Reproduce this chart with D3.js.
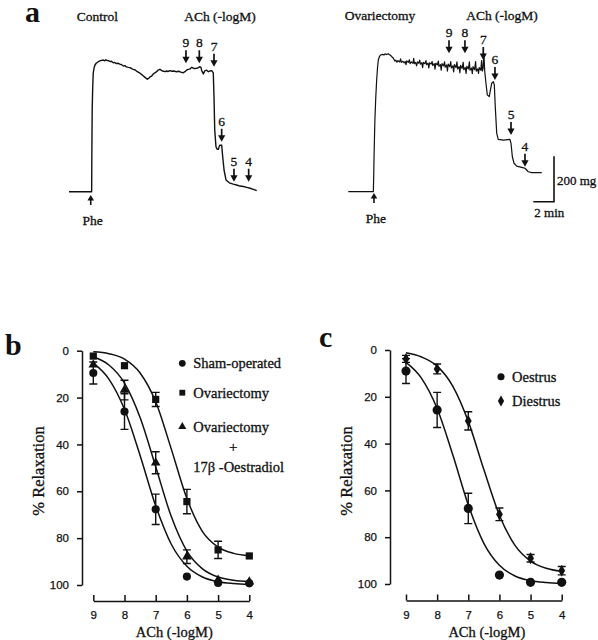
<!DOCTYPE html>
<html><head><meta charset="utf-8">
<script src="https://cdn.jsdelivr.net/npm/d3@7"></script>
<style>body{margin:0;background:#fff}</style>
</head><body><svg id="fig" width="598" height="640"></svg>
<script>
// ---------- DATA ----------
// Panel a: isometric tension recordings [time (min), tension (mg)]
const controlTrace = [[0,0],[2.19,0],[2.21,190],[2.24,376],[2.29,480],[2.34,546],[2.42,570],[2.51,584],[2.65,593],[2.83,599],[3.05,604],[3.31,607],[3.45,603],[3.55,608],[3.7,604],[3.8,604],[3.95,600],[4.1,601],[4.28,594],[4.4,596],[4.55,591],[4.76,592],[4.9,588],[5.05,586],[5.25,579],[5.4,581],[5.55,575],[5.73,573],[5.9,572],[6.05,567],[6.21,564],[6.4,561],[6.6,553],[6.86,546],[7.1,537],[7.35,527],[7.57,518],[7.7,523],[7.85,530],[7.99,533],[8.15,543],[8.3,548],[8.47,553],[8.6,560],[8.79,564],[8.9,560],[9.05,556],[9.28,553],[9.4,556],[9.55,554],[9.76,558],[9.95,555],[10.1,556],[10.41,553],[10.6,555],[10.8,551],[11.04,548],[11.2,553],[11.35,560],[11.53,564],[11.7,566],[11.85,573],[12.0,570],[12.1,567],[12.34,569],[12.5,572],[12.66,576],[12.75,573],[12.82,558],[12.9,551],[12.98,542],[13.05,550],[13.14,558],[13.3,560],[13.46,553],[13.6,556],[13.79,558],[13.94,548],[14.01,438],[14.08,284],[14.2,207],[14.33,195],[14.43,195],[14.52,210],[14.59,215],[14.68,213],[14.75,215],[14.85,161],[14.98,100],[15.17,54],[15.49,41],[15.87,35],[16.2,31],[16.52,26],[16.85,24],[17.17,20],[17.5,16],[17.81,11],[18.14,5]];
const ovxTrace = [[0,0],[2.42,0],[2.46,80],[2.48,146],[2.53,250],[2.57,330],[2.65,430],[2.74,515],[2.82,570],[2.9,607],[3.0,622],[3.13,630],[3.3,633],[3.45,630],[3.55,635],[3.7,632],[3.85,636],[4.03,630],[4.15,625],[4.35,615],[4.5,602],[4.6,606],[4.7,597],[4.8,604],[4.95,598],[5.05,612],[5.12,596],[5.25,601],[5.4,594],[5.5,600],[5.58,585],[5.65,603],[5.8,596],[5.9,608],[5.97,590],[6.1,598],[6.25,592],[6.32,614],[6.38,590],[6.5,596],[6.6,580],[6.68,598],[6.8,592],[6.9,606],[6.97,588],[7.1,594],[7.18,572],[7.25,596],[7.4,590],[7.5,604],[7.56,586],[7.7,592],[7.78,570],[7.85,594],[8.0,588],[8.1,600],[8.16,582],[8.3,590],[8.38,565],[8.45,592],[8.6,584],[8.7,602],[8.76,578],[8.9,586],[8.98,560],[9.05,590],[9.2,580],[9.3,598],[9.36,574],[9.5,584],[9.58,556],[9.65,588],[9.8,576],[9.9,600],[9.96,570],[10.1,580],[10.18,552],[10.25,586],[10.4,572],[10.5,598],[10.56,566],[10.7,576],[10.78,548],[10.85,582],[11.0,568],[11.1,596],[11.16,562],[11.3,572],[11.38,545],[11.45,578],[11.6,566],[11.7,598],[11.76,560],[11.9,570],[11.98,544],[12.05,576],[12.2,562],[12.3,600],[12.36,556],[12.5,566],[12.58,545],[12.65,572],[12.8,560],[12.88,604],[12.94,556],[13.02,566],[13.1,638],[13.18,556],[13.3,500],[13.43,446],[13.62,438],[13.76,476],[13.86,500],[14.01,507],[14.11,492],[14.2,392],[14.34,269],[14.49,241],[14.98,238],[15.62,241],[15.72,223],[15.85,161],[16.01,131],[16.27,118],[16.75,112],[17.07,108],[17.39,92],[17.72,88],[18.69,88]];
const doseLabels = ['9','8','7','6','5','4'];
const controlArrowTimes = [11.3,12.59,14.01,14.75,15.94,17.36];
const controlArrowTension = [592,592,576,230,46,46];
const ovxArrowTimes = [9.73,11.27,13.04,14.17,15.72,17.07];
const ovxArrowTension = [638,638,607,515,261,115];
const pheTimes = [2.1,2.48];           // control, ovariectomy
const pheTension = [-15,-6];
const scaleBarTime = 2;                // min
const scaleBarTension = 200;           // mg

// Panels b, c: concentration-response
const pLevels = [9,8,7,6,5,4];
const yTicks = [0,20,40,60,80,100];
const shamMean = [9.5,26,67.7,96.4,99.1,99.3];
const shamSem  = [4.7,7.6,6.5,0,0,0];
const ovxMean  = [2.3,6.4,20.8,64.4,85,87.6];
const ovxSem   = [0,0,3,5.2,3.7,0];
const ovxE2Mean = [6,16.8,47.8,87.9,97.9,98.6];
const ovxE2Sem  = [0,4.2,4.7,2.9,0,0];
const oestrusMean = [9,25.6,67.7,96.2,99.3,99.3];
const oestrusSem  = [5.3,7.5,6.5,0,0,0];
const diestrusMean = [3.8,8.1,30.3,70.2,89,94.3];
const diestrusSem  = [1.5,2.1,3.9,2.7,1.6,1.8];
// fitted curves, read at half-log steps
const curveP = [9,8.5,8,7.5,7,6.5,6,5.5,5,4.5,4];
const shamCurve = [5.3,12.1,25,44.7,66.2,82.6,92,96.6,98.6,99.4,99.8];
const ovxCurve = [0.5,1.3,3.6,9.5,21.8,42,63.1,77.2,83.8,86.5,87.5];
const ovxE2Curve = [2.6,6.1,13.8,28.5,49.5,70.8,85.5,93.1,96.6,98,98.6];
const oestrusCurve = [5.3,12.1,25,44.7,66.2,82.6,92,96.6,98.6,99.4,99.8];
const diestrusCurve = [1.2,3,6.9,15.4,30.5,51.1,70.6,83.5,90.2,93.3,94.6];

// ---------- DRAWING ----------
const svg = d3.select('#fig');
svg.append('rect').attr('width',598).attr('height',640).attr('fill','#fff');
const ink = '#111';
const serif = '"Liberation Serif","Times New Roman",serif';
const sans = '"Liberation Sans",Arial,sans-serif';

function txt(x,y,s,opt={}){
  return svg.append('text').attr('x',x).attr('y',y).attr('dy',opt.dy===undefined?'0.35em':opt.dy)
    .attr('text-anchor',opt.anchor||'middle')
    .attr('font-family',opt.family||serif).attr('font-size',opt.size||13.5)
    .attr('font-weight',opt.weight||'normal').attr('fill',ink)
    .attr('stroke',ink).attr('stroke-width',opt.sw===undefined?0.3:opt.sw).text(s);
}

// ---- Panel a ----
const traceY = d3.scaleLinear().domain([0,1000]).range([191.7,-25.3]);
const ctrlX = d3.scaleLinear().domain([0,20]).range([69,276]);
const ovxX = d3.scaleLinear().domain([0,20]).range([348.3,555.3]);
const traceLine = xs => d3.line().x(d=>xs(d[0])).y(d=>traceY(d[1]));

svg.append('path').attr('d',traceLine(ctrlX)(controlTrace)).attr('fill','none')
  .attr('stroke',ink).attr('stroke-width',1.4).attr('stroke-linejoin','round');
svg.append('path').attr('d',traceLine(ovxX)(ovxTrace)).attr('fill','none')
  .attr('stroke',ink).attr('stroke-width',1.2).attr('stroke-linejoin','round');

function downArrow(x,yTip,label){
  svg.append('line').attr('x1',x).attr('x2',x).attr('y1',yTip-13).attr('y2',yTip-5)
    .attr('stroke',ink).attr('stroke-width',1.7);
  svg.append('path').attr('d',`M${x-3.6},${yTip-6.5}L${x+3.6},${yTip-6.5}L${x},${yTip}Z`).attr('fill',ink);
  txt(x,yTip-20.5,label,{size:13.5});
}
function upArrow(x,yTip,label){
  svg.append('line').attr('x1',x).attr('x2',x).attr('y1',yTip+4).attr('y2',yTip+10)
    .attr('stroke',ink).attr('stroke-width',1.6);
  svg.append('path').attr('d',`M${x-3.3},${yTip+5.5}L${x+3.3},${yTip+5.5}L${x},${yTip}Z`).attr('fill',ink);
  txt(x+2,yTip+25,label,{size:13.5});
}
doseLabels.forEach((l,i)=>downArrow(ctrlX(controlArrowTimes[i]),traceY(controlArrowTension[i]),l));
doseLabels.forEach((l,i)=>downArrow(ovxX(ovxArrowTimes[i]),traceY(ovxArrowTension[i]),l));
upArrow(ctrlX(pheTimes[0]),traceY(pheTension[0]),'Phe');
upArrow(ovxX(pheTimes[1]),traceY(pheTension[1]),'Phe');

// scale bar
const sbX1 = 554, sbY0 = 201.7;
const sbW = ovxX(scaleBarTime)-ovxX(0), sbH = traceY(0)-traceY(scaleBarTension);
svg.append('path').attr('d',`M${sbX1-sbW},${sbY0}H${sbX1}V${sbY0-sbH-2}`)
  .attr('fill','none').attr('stroke',ink).attr('stroke-width',1.6);
txt(sbX1+3,180,scaleBarTension+' mg',{anchor:'start',size:13});
txt(sbX1-sbW+1,212,scaleBarTime+' min',{anchor:'start',size:13});

txt(25,22,'a',{anchor:'start',size:30,weight:'bold',dy:0,sw:0});
txt(97.5,16.7,'Control',{size:13.5});
txt(220,16.7,'ACh (-logM)',{size:13.5});
txt(380,15,'Ovariectomy',{size:13.5});
txt(502,15,'ACh (-logM)',{size:13.5});

// ---- Panels b & c ----
function panel(cfg){
  const x = d3.scaleLinear().domain([9,4]).range(cfg.xr);
  const y = d3.scaleLinear().domain([0,100]).range(cfg.yr);
  const g = svg.append('g');
  const ya = g.append('g').attr('transform',`translate(${cfg.axX},0)`)
    .call(d3.axisLeft(y).tickValues(yTicks).tickSize(5).tickSizeOuter(0).tickPadding(8));
  const xa = g.append('g').attr('transform',`translate(0,${cfg.axY})`)
    .call(d3.axisBottom(x).tickValues(pLevels).tickSize(-6).tickSizeOuter(0).tickPadding(10).tickFormat(d3.format('d')));
  [ya,xa].forEach(a=>{
    a.selectAll('path,line').attr('stroke',ink).attr('stroke-width',1.5);
    a.selectAll('text').attr('font-family',sans).attr('font-size',11.5).attr('fill',ink)
      .attr('stroke',ink).attr('stroke-width',0.25);
  });
  txt((cfg.xr[0]+cfg.xr[1])/2+3,631.5,'ACh (-logM)',{size:14.5});
  svg.append('text').attr('transform',`translate(${cfg.axX-44},471) rotate(-90)`)
    .attr('text-anchor','middle').attr('dy','0.35em').attr('font-family',serif)
    .attr('font-size',16.5).attr('fill',ink).attr('stroke',ink).attr('stroke-width',0.3).text('% Relaxation');
  const line = d3.line().x((d,i)=>x(curveP[i])).y(d=>y(d)).curve(d3.curveMonotoneX);
  cfg.curves.forEach(c=>g.append('path').attr('d',line(c)).attr('fill','none')
    .attr('stroke',ink).attr('stroke-width',1.5));
  cfg.series.forEach(s=>{
    s.mean.forEach((m,i)=>{
      if(s.sem[i]>0){
        const px=x(pLevels[i]), y1=y(m-s.sem[i]), y2=y(m+s.sem[i]);
        g.append('path').attr('d',`M${px},${y1}V${y2}M${px-4},${y1}H${px+4}M${px-4},${y2}H${px+4}`)
          .attr('stroke',ink).attr('stroke-width',1.4).attr('fill','none');
      }
    });
    s.mean.forEach((m,i)=>{
      g.append('path').attr('d',d3.symbol(s.type,s.size)())
        .attr('transform',`translate(${x(pLevels[i])},${y(m)})`).attr('fill',ink);
    });
  });
  cfg.legend.forEach(l=>{
    svg.append('path').attr('d',d3.symbol(l.type,l.size)())
      .attr('transform',`translate(${l.x},${l.y})`).attr('fill',ink);
    txt(l.x+11,l.y,l.label,{anchor:'start',size:14.5});
  });
}

panel({xr:[93.3,249.3], yr:[350.7,585], axX:82, axY:601,
  curves:[shamCurve,ovxCurve,ovxE2Curve],
  series:[
    {mean:ovxE2Mean,sem:ovxE2Sem,type:d3.symbolTriangle,size:40},
    {mean:ovxMean,sem:ovxSem,type:d3.symbolSquare,size:52},
    {mean:shamMean,sem:shamSem,type:d3.symbolCircle,size:52}],
  legend:[
    {x:182.3,y:363.3,type:d3.symbolCircle,size:36,label:'Sham-operated'},
    {x:182.3,y:392.7,type:d3.symbolSquare,size:34,label:'Ovariectomy'},
    {x:182.3,y:426.7,type:d3.symbolTriangle,size:28,label:'Ovariectomy'}]
});
txt(233.3,446.7,'+',{size:15});
txt(193.3,467.3,'17β -Oestradiol',{anchor:'start',size:14.5});
txt(5,355,'b',{anchor:'start',size:30,weight:'bold',dy:0,sw:0});

panel({xr:[406,561.7], yr:[350,584], axX:390, axY:600.5,
  curves:[oestrusCurve,diestrusCurve],
  series:[
    {mean:diestrusMean,sem:diestrusSem,type:d3.symbolDiamond,size:40},
    {mean:oestrusMean,sem:oestrusSem,type:d3.symbolCircle,size:66}],
  legend:[
    {x:501,y:376.7,type:d3.symbolCircle,size:40,label:'Oestrus'},
    {x:501,y:401,type:d3.symbolDiamond,size:34,label:'Diestrus'}]
});
txt(319,347,'c',{anchor:'start',size:30,weight:'bold',dy:0,sw:0});
</script></body></html>
